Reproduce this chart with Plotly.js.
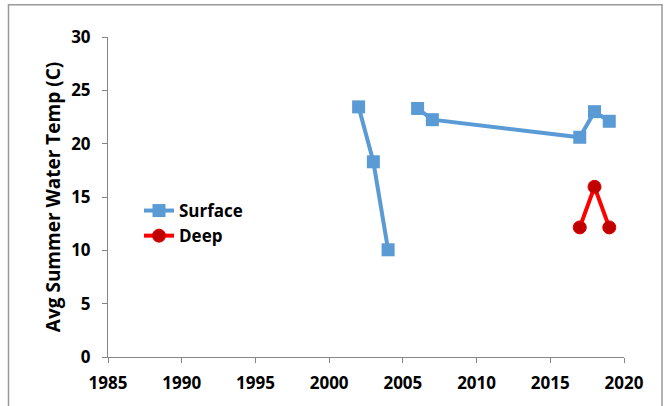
<!DOCTYPE html>
<html>
<head>
<meta charset="utf-8">
<script src="https://cdn.plot.ly/plotly-3.0.1.min.js"></script>
<style>html,body{margin:0;padding:0;background:#fff;}#chart{width:667px;height:406px;}</style>
</head>
<body>
<div id="chart"></div>
<script>
const years = [2002, 2003, 2004, 2005, 2006, 2007, 2017, 2018, 2019];
const surfaceTemp = [23.45, 18.3, 10.05, null, 23.3, 22.25, 20.6, 23.0, 22.1];
const deepYears = [2017, 2018, 2019];
const deepTemp = [12.15, 15.95, 12.15];
const xTicks = [1985, 1990, 1995, 2000, 2005, 2010, 2015, 2020];
const yTicks = [0, 5, 10, 15, 20, 25, 30];
const yTitle = 'Avg Summer Water Temp (C)';

const FONT = '"Open Sans", "Noto Sans", sans-serif';
const L = 108, R = 43, T = 37, B = 49;
const W = 667 - L - R, H = 406 - T - B;
const b = s => '<b>' + s + '</b>';

const traces = [
  {
    x: years, y: surfaceTemp, name: b('Surface'), type: 'scatter', mode: 'lines+markers',
    connectgaps: false,
    line: {color: '#5B9BD5', width: 4},
    marker: {symbol: 'square', size: 13, color: '#5B9BD5'}
  },
  {
    x: deepYears, y: deepTemp, name: b('Deep'), type: 'scatter', mode: 'lines+markers',
    line: {color: '#FF0000', width: 4},
    marker: {symbol: 'circle', size: 13, color: '#C00000', line: {color: '#E00000', width: 1}}
  }
];

const layout = {
  width: 667, height: 406,
  margin: {l: L, r: R, t: T, b: B, pad: 0},
  paper_bgcolor: '#fff', plot_bgcolor: '#fff',
  showlegend: true,
  legend: {
    x: (139 - L) / W, y: (357 - 193) / H, xanchor: 'left', yanchor: 'top',
    font: {family: FONT, size: 17, color: '#000', weight: 700},
    bgcolor: 'rgba(0,0,0,0)', itemwidth: 30, tracegroupgap: 0
  },
  xaxis: {
    range: [1985, 2020], tickvals: xTicks, ticktext: xTicks.map(v => b(v)),
    showgrid: false, zeroline: false, showline: true, linecolor: '#868686', linewidth: 1,
    ticks: 'outside', ticklen: 5, tickcolor: '#868686', ticklabelstandoff: 6,
    tickfont: {family: FONT, size: 17, color: '#000', weight: 700},
    fixedrange: true
  },
  yaxis: {
    range: [0, 30], tickvals: yTicks, ticktext: yTicks.map(v => b(v)),
    showgrid: false, zeroline: false, showline: true, linecolor: '#868686', linewidth: 1,
    ticks: 'outside', ticklen: 5, tickcolor: '#868686', ticklabelstandoff: 8,
    tickfont: {family: FONT, size: 17, color: '#000', weight: 700},
    title: {text: b(yTitle), font: {family: FONT, size: 19, color: '#000', weight: 700}, standoff: 5},
    fixedrange: true
  },
  shapes: [{
    type: 'rect', xref: 'paper', yref: 'paper',
    x0: (8.5 - L) / W, x1: (662 - L) / W,
    y0: (357 - 420) / H, y1: (357 - 4.7) / H,
    line: {color: '#999999', width: 1.5}, fillcolor: 'rgba(0,0,0,0)', layer: 'below'
  }]
};

Plotly.newPlot('chart', traces, layout, {displayModeBar: false, staticPlot: true});
</script>
</body>
</html>
